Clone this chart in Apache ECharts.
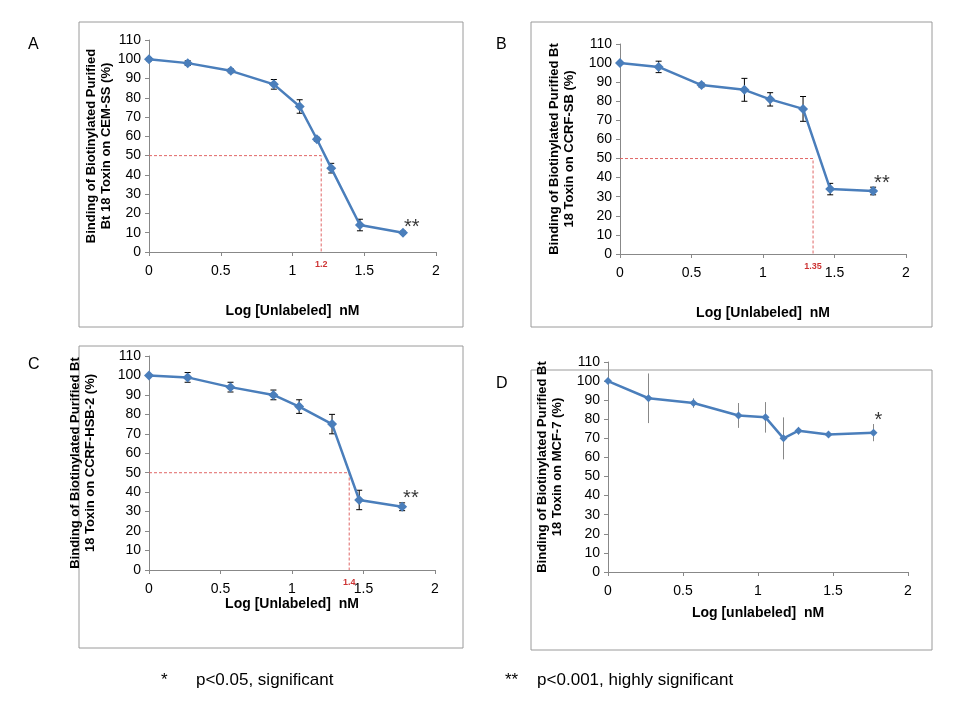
<!doctype html>
<html lang="en">
<head>
<meta charset="UTF-8">
<title>Binding curves</title>
<style>*{margin:0;padding:0} #block{width:960px;height:720px;background:#fff}</style>
</head>
<body>
<div id="block"></div>
<script src="https://cdn.jsdelivr.net/npm/echarts@6/dist/echarts.min.js"></script>
<script>
    // data per panel: x = log concentration, y = binding %, e = error bar half width
    const xA = [0, 0.27, 0.57, 0.87, 1.05, 1.17, 1.27, 1.47, 1.77];
    const yA = [100, 98, 94, 87, 75.5, 58.5, 43.5, 14, 10];
    const eA = [0.8, 1.2, 1, 2.5, 3.5, 1, 2.5, 3, 0.8];

    const xB = [0, 0.27, 0.57, 0.87, 1.05, 1.28, 1.47, 1.77];
    const yB = [100, 98, 88.5, 86, 81, 76, 34, 33];
    const eB = [0.5, 3, 1, 6, 3.5, 6.5, 3, 2];

    const xC = [0, 0.27, 0.57, 0.87, 1.05, 1.28, 1.47, 1.77];
    const yC = [100, 99, 94, 90, 84, 75, 36, 32.5];
    const eC = [0.5, 2.5, 2.5, 2.5, 3.5, 5, 5, 2];

    const xD = [0, 0.27, 0.57, 0.87, 1.05, 1.17, 1.27, 1.47, 1.77];
    const yD = [100, 91, 88.5, 82, 81, 70, 74, 72, 73];
    const eD = [0.5, 13, 2.5, 6.5, 8, 11, 2, 1.5, 4.5];

    const ic50 = {A: 1.2, B: 1.35, C: 1.4};
    const ic50Labels = {A: '1.2', B: '1.35', C: '1.4'};
    const stars = {A: '**', B: '**', C: '**', D: '*'};
    const yNames = {
        A: 'Binding of Biotinylated Purified\nBt 18 Toxin on CEM-SS (%)',
        B: 'Binding of Biotinylated Purified Bt\n18 Toxin on CCRF-SB (%)',
        C: 'Binding of Biotinylated Purified Bt\n18 Toxin on CCRF-HSB-2 (%)',
        D: 'Binding of Biotinylated Purified Bt\n18 Toxin on MCF-7 (%)'
    };
    const xNames = {A: 'Log [Unlabeled]  nM', B: 'Log [Unlabeled]  nM', C: 'Log [Unlabeled]  nM', D: 'Log [unlabeled]  nM'};
    const panels = {A: [xA, yA, eA], B: [xB, yB, eB], C: [xC, yC, eC], D: [xD, yD, eD]};

    const font = 'Liberation Sans, Arial, sans-serif';
    const blue = '#4a7ebb';
    // plot area per panel
    const grids = {
        A: {left: 149, top: 40, width: 287, height: 212, nameGap: 34, xGap: 52},
        B: {left: 620, top: 44, width: 286, height: 210, nameGap: 43, xGap: 52},
        C: {left: 149, top: 356, width: 286, height: 214, nameGap: 51, xGap: 18},
        D: {left: 608, top: 362, width: 300, height: 210, nameGap: 43, xGap: 34}
    };
    const keys = ['A', 'B', 'C', 'D'];

    const chart = echarts.init(document.getElementById('block'));
    let grid = [], xAxis = [], yAxis = [], series = [];
    keys.forEach((k, i) => {
        const g = grids[k];
        grid.push({left: g.left, top: g.top, width: g.width, height: g.height});
        xAxis.push({
            type: 'value', gridIndex: i, min: 0, max: 2, interval: 0.5,
            name: xNames[k], nameLocation: 'middle', nameGap: g.xGap,
            nameTextStyle: {fontFamily: font, fontWeight: 'bold', fontSize: 14, color: '#000'},
            axisLine: {lineStyle: {color: '#888'}}, axisTick: {show: true, length: 4},
            splitLine: {show: false},
            axisLabel: {fontFamily: font, fontSize: 14, color: '#000', margin: 12}
        });
        yAxis.push({
            type: 'value', gridIndex: i, min: 0, max: 110, interval: 10,
            name: yNames[k], nameLocation: 'middle', nameGap: g.nameGap, nameRotate: 90,
            nameTextStyle: {fontFamily: font, fontWeight: 'bold', fontSize: 13, color: '#000', lineHeight: 15},
            axisLine: {show: true, lineStyle: {color: '#888'}}, axisTick: {show: true, length: 4},
            splitLine: {show: false},
            axisLabel: {fontFamily: font, fontSize: 14, color: '#000'}
        });
        const [xs, ys, es] = panels[k];
        const pts = xs.map((x, j) => [x, ys[j], es[j]]);
        // reference lines for IC50
        if (ic50[k] !== undefined) {
            series.push({
                type: 'line', xAxisIndex: i, yAxisIndex: i, symbol: 'none', silent: true,
                lineStyle: {color: '#e06666', width: 1, type: [3, 2]},
                data: [[0, 50], [ic50[k], 50], [ic50[k], 0]]
            });
            series.push({
                type: 'scatter', xAxisIndex: i, yAxisIndex: i, symbolSize: 0,
                data: [[ic50[k], 0]],
                label: {show: true, position: 'bottom', distance: 8, formatter: ic50Labels[k],
                    color: '#c00000', fontSize: 9, fontWeight: 'bold', fontFamily: font}
            });
        }
        // error bars
        series.push({
            type: 'custom', xAxisIndex: i, yAxisIndex: i, silent: true, z: 3,
            data: pts,
            renderItem: (params, api) => {
                const x = api.value(0), y = api.value(1), e = api.value(2);
                const top = api.coord([x, y + e]), bot = api.coord([x, y - e]);
                const c = k === 'D' ? '#888' : '#000';
                const w = k === 'D' ? 0 : 3;
                return {type: 'group', children: [
                    {type: 'line', shape: {x1: top[0], y1: top[1], x2: bot[0], y2: bot[1]}, style: {stroke: c, lineWidth: 1}},
                    {type: 'line', shape: {x1: top[0] - w, y1: top[1], x2: top[0] + w, y2: top[1]}, style: {stroke: c, lineWidth: 1}},
                    {type: 'line', shape: {x1: bot[0] - w, y1: bot[1], x2: bot[0] + w, y2: bot[1]}, style: {stroke: c, lineWidth: 1}}
                ]};
            }
        });
        series.push({
            type: 'line', xAxisIndex: i, yAxisIndex: i, z: 4,
            data: pts.map(p => [p[0], p[1]]),
            symbol: 'diamond', symbolSize: k === 'D' ? 8 : 10,
            lineStyle: {color: blue, width: 2.5}, itemStyle: {color: blue}
        });
        const last = pts[pts.length - 1];
        series.push({
            type: 'scatter', xAxisIndex: i, yAxisIndex: i, symbolSize: 0, z: 5,
            data: [[last[0], last[1] + last[2]]],
            label: {show: true, position: 'right', offset: [-4, -4], formatter: stars[k],
                color: '#000', fontSize: 20, fontFamily: font}
        });
    });

    const box = (x, y, w, h) => ({type: 'rect', shape: {x: x, y: y, width: w, height: h},
        style: {fill: 'none', stroke: '#9a9a9a', lineWidth: 1}, silent: true});
    const txt = (x, y, t, s) => ({type: 'text', x: x, y: y,
        style: {text: t, fontFamily: font, fontSize: s || 16, fill: '#000'}});

    chart.setOption({
        animation: false,
        grid: grid, xAxis: xAxis, yAxis: yAxis, series: series,
        graphic: [
            box(79, 22, 384, 305), box(531, 22, 401, 305),
            box(79, 346, 384, 302), box(531, 370, 401, 280),
            txt(28, 37, 'A'), txt(496, 37, 'B'), txt(28, 357, 'C'), txt(496, 376, 'D'),
            txt(161, 672, '*      p<0.05, significant', 17),
            txt(505, 672, '**    p<0.001, highly significant', 17)
        ]
    });
</script>
</body>
</html>
